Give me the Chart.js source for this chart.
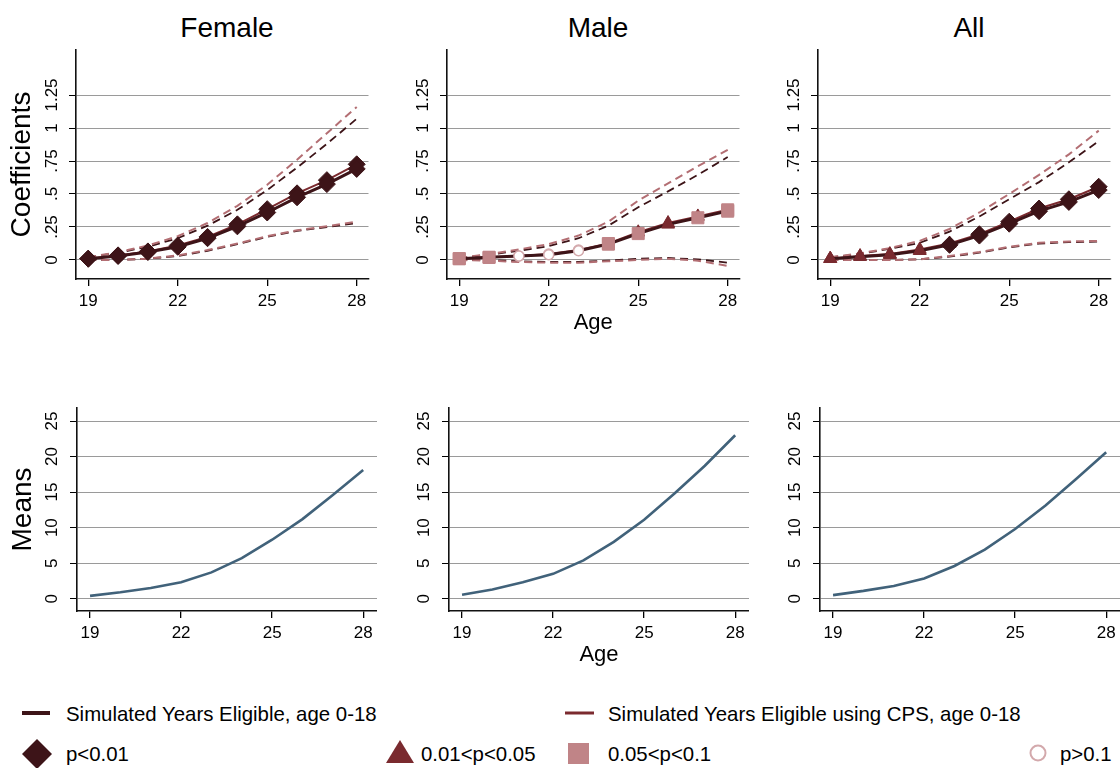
<!DOCTYPE html>
<html><head><meta charset="utf-8">
<script src="https://cdn.jsdelivr.net/npm/chart.js@4.4.1/dist/chart.umd.min.js"></script>
<style>
html,body{margin:0;padding:0;background:#fff;}
#wrap{position:relative;width:1120px;height:768px;overflow:hidden;font-family:"Liberation Sans",Arial,sans-serif;color:#000;background:#fff;}
canvas{position:absolute;}
.ttl{position:absolute;font-size:28px;line-height:1;white-space:nowrap;transform:translate(-50%,-50%);}
.lg{position:absolute;font-size:20.4px;line-height:1;white-space:nowrap;transform:translateY(-50%);}
#keys{position:absolute;left:0;top:0;}
</style></head>
<body><div id="wrap">
<div class="ttl" style="left:227px;top:27.5px">Female</div>
<div class="ttl" style="left:598px;top:27.5px">Male</div>
<div class="ttl" style="left:969px;top:27.5px">All</div>
<svg id="keys" width="1120" height="768">
  <line x1="22" y1="713" x2="50" y2="713" stroke="#3d1418" stroke-width="4"/>
  <line x1="565" y1="713" x2="594" y2="713" stroke="#7b2a2f" stroke-width="3"/>
  <polygon points="37,739 52,754 37,769 22,754" fill="#3d1418"/>
  <polygon points="400,740 414,763 386,763" fill="#7a2a2f"/>
  <rect x="568" y="743" width="21" height="21" fill="#c08487"/>
  <circle cx="1038" cy="753" r="7.5" fill="#fff" stroke="#d3a9ac" stroke-width="2"/>
</svg>
<div class="lg" style="left:66px;top:713.5px">Simulated Years Eligible, age 0-18</div>
<div class="lg" style="left:608px;top:713.5px">Simulated Years Eligible using CPS, age 0-18</div>
<div class="lg" style="left:66px;top:753.5px">p&lt;0.01</div>
<div class="lg" style="left:421px;top:753.5px">0.01&lt;p&lt;0.05</div>
<div class="lg" style="left:608px;top:753.5px">0.05&lt;p&lt;0.1</div>
<div class="lg" style="left:1060px;top:753.5px">p&gt;0.1</div>
</div>
<script>
// ---------------- DATA ----------------
const ages = [19, 20, 21, 22, 23, 24, 25, 26, 27, 28];
const xTicks = [19, 22, 25, 28];
const coefTicks = [0, 0.25, 0.5, 0.75, 1, 1.25];
const coefTickLabels = ['0', '.25', '.5', '.75', '1', '1.25'];
const meanTicks = [0, 5, 10, 15, 20, 25];
const meanTickLabels = ['0', '5', '10', '15', '20', '25'];

// Female coefficients
const femaleSim   = [0.01, 0.03, 0.06, 0.10, 0.165, 0.255, 0.36, 0.475, 0.575, 0.69];
const femaleCps   = [0.01, 0.035, 0.065, 0.11, 0.175, 0.27, 0.385, 0.505, 0.605, 0.725];
const femaleSimHi = [0.02, 0.055, 0.10, 0.165, 0.26, 0.38, 0.53, 0.70, 0.88, 1.07];
const femaleSimLo = [0.0, 0.0, 0.01, 0.03, 0.07, 0.12, 0.175, 0.22, 0.25, 0.28];
const femaleCpsHi = [0.02, 0.06, 0.11, 0.18, 0.28, 0.41, 0.57, 0.76, 0.96, 1.16];
const femaleCpsLo = [0.0, 0.0, 0.01, 0.035, 0.075, 0.125, 0.18, 0.225, 0.255, 0.29];
const femaleSimSig = ['d','d','d','d','d','d','d','d','d','d'];
const femaleCpsSig = ['d','d','d','d','d','d','d','d','d','d'];

// Male coefficients
const maleSim   = [0.01, 0.02, 0.03, 0.04, 0.07, 0.12, 0.2, 0.27, 0.32, 0.37];
const maleCps   = [0.01, 0.02, 0.03, 0.045, 0.075, 0.125, 0.21, 0.28, 0.33, 0.38];
const maleSimHi = [0.015, 0.04, 0.07, 0.105, 0.165, 0.26, 0.40, 0.52, 0.645, 0.78];
const maleSimLo = [0.0, 0.0, -0.01, -0.015, -0.015, -0.005, 0.01, 0.015, 0.005, -0.02];
const maleCpsHi = [0.015, 0.045, 0.08, 0.12, 0.185, 0.29, 0.45, 0.58, 0.71, 0.835];
const maleCpsLo = [0.0, -0.005, -0.015, -0.02, -0.02, -0.01, 0.0, 0.01, -0.005, -0.045];
const maleSimSig = ['s','s','c','c','c','s','s','t','s','s'];
const maleCpsSig = ['s','s','c','c','c','s','t','t','t','s'];

// All coefficients
const allSim   = [0.01, 0.025, 0.04, 0.07, 0.115, 0.185, 0.275, 0.37, 0.44, 0.53];
const allCps   = [0.01, 0.03, 0.045, 0.08, 0.125, 0.195, 0.29, 0.39, 0.46, 0.555];
const allSimHi = [0.02, 0.045, 0.085, 0.13, 0.215, 0.33, 0.46, 0.59, 0.74, 0.90];
const allSimLo = [0.0, 0.0, 0.0, 0.005, 0.025, 0.055, 0.095, 0.125, 0.135, 0.14];
const allCpsHi = [0.02, 0.05, 0.09, 0.145, 0.235, 0.36, 0.5, 0.645, 0.8, 0.98];
const allCpsLo = [0.0, 0.0, 0.0, 0.005, 0.03, 0.06, 0.1, 0.13, 0.14, 0.145];
const allSimSig = ['t','t','t','t','d','d','d','d','d','d'];
const allCpsSig = ['t','t','t','t','t','d','d','d','d','d'];

// Means
const femaleMeans = [0.4, 0.9, 1.5, 2.3, 3.7, 5.7, 8.3, 11.2, 14.6, 18.1];
const maleMeans   = [0.55, 1.3, 2.3, 3.5, 5.4, 8.0, 11.1, 14.8, 18.7, 23.0];
const allMeans    = [0.5, 1.1, 1.8, 2.85, 4.6, 6.9, 9.8, 13.1, 16.8, 20.6];

// ---------------- STYLE ----------------
const FONT = '"Liberation Sans", Arial, sans-serif';
Chart.defaults.font.family = FONT;
Chart.defaults.color = '#000';
const C_DARK = '#3d1418', C_RED = '#7b2a2f', C_CI = '#b36e73', C_MEAN = '#41627a';
const sigStyle = {
  d: {shape: 'rectRot', r: 8.5, fill: '#3d1418', line: '#3d1418', w: 1},
  t: {shape: 'triangle', r: 7.5, fill: '#7a2a2f', line: '#7a2a2f', w: 1},
  s: {shape: 'rect', r: 8.5, fill: '#c08487', line: '#c08487', w: 1},
  c: {shape: 'circle', r: 5, fill: '#ffffff', line: '#d3a9ac', w: 1.5}
};
const TICK_FONT = 17, TL = 7;
function textW(t, size) {
  const c = document.createElement('canvas').getContext('2d');
  c.font = size + 'px ' + FONT;
  return c.measureText(t).width;
}
const pts = arr => ages.map((a, i) => ({x: a, y: arr[i]}));

function mainSet(vals, sig, color, width, order) {
  return {
    data: pts(vals), borderColor: color, borderWidth: width, tension: 0, order,
    pointStyle: sig.map(s => sigStyle[s].shape),
    pointRadius: sig.map(s => sigStyle[s].r),
    pointBackgroundColor: sig.map(s => sigStyle[s].fill),
    pointBorderColor: sig.map(s => sigStyle[s].line),
    pointBorderWidth: sig.map(s => sigStyle[s].w)
  };
}
function ciSet(vals, color, width, order) {
  return {data: pts(vals), borderColor: color, borderWidth: width, borderDash: [8, 5],
          pointRadius: 0, tension: 0, order};
}

const rows = {
  top: {plotTop: 50, plotBottom: 279, canvasTop: 40, canvasBottom: 340, plotW: 302,
        xMin: 18.59, xMax: 28.395, yMin: -0.144, yMax: 1.591,
        ticks: coefTicks, labels: coefTickLabels, labOff: 24, ageY: 323},
  bottom: {plotTop: 408, plotBottom: 611, canvasTop: 395, canvasBottom: 680, plotW: 300,
        xMin: 18.57, xMax: 28.455, yMin: -1.73, yMax: 26.83,
        ticks: meanTicks, labels: meanTickLabels, labOff: 25, ageY: 655}
};

function makePanel(row, axisX, datasets, yTitle, yTitleX, showAge) {
  const YW = 76;
  const left = axisX - YW;
  const width = YW + row.plotW;
  const height = row.canvasBottom - row.canvasTop;
  const cv = document.createElement('canvas');
  cv.width = width; cv.height = height;
  cv.style.left = left + 'px'; cv.style.top = row.canvasTop + 'px';
  cv.style.width = width + 'px'; cv.style.height = height + 'px';
  document.getElementById('wrap').appendChild(cv);
  const widest = Math.max(...row.labels.map(l => textW(l, TICK_FONT)));
  const yPad = row.labOff - TL - widest / 2;
  const xH = row.canvasBottom - row.plotBottom;
  const ageLH = 22 * 1.2;
  const yLH = 28 * 1.2;
  new Chart(cv, {
    type: 'line',
    data: {datasets},
    options: {
      responsive: false, animation: false, devicePixelRatio: 1,
      layout: {padding: {top: row.plotTop - row.canvasTop, right: 0, left: 0, bottom: 0}},
      plugins: {legend: {display: false}, tooltip: {enabled: false}},
      scales: {
        x: {
          type: 'linear', position: 'bottom', min: row.xMin, max: row.xMax,
          afterBuildTicks: s => { s.ticks = xTicks.map(v => ({value: v})); },
          afterFit: s => { s.height = xH; s.paddingLeft = 0; s.paddingRight = 0; },
          grid: {drawOnChartArea: false, drawTicks: true, tickLength: TL, tickColor: '#000', lineWidth: 1.3},
          border: {color: '#111', width: 1.6},
          ticks: {autoSkip: false, maxRotation: 0, minRotation: 0, padding: 5,
                  font: {size: TICK_FONT}, color: '#000'},
          title: {display: showAge, text: 'Age', font: {size: 22}, color: '#000',
                  padding: {top: 0, bottom: height - ageLH / 2 - (row.ageY - row.canvasTop)}}
        },
        y: {
          type: 'linear', position: 'left', min: row.yMin, max: row.yMax,
          afterBuildTicks: s => { s.ticks = row.ticks.map(v => ({value: v})); },
          afterFit: s => { s.width = YW; s.paddingTop = 0; s.paddingBottom = 0; },
          grid: {drawOnChartArea: true, drawTicks: true, tickLength: TL, color: '#9a9a9a',
                 tickColor: '#000', lineWidth: 1},
          border: {color: '#111', width: 1.6},
          ticks: {autoSkip: false, minRotation: 90, maxRotation: 90, crossAlign: 'center',
                  padding: yPad, font: {size: TICK_FONT}, color: '#000',
                  callback: v => { const i = row.ticks.indexOf(v); return i >= 0 ? row.labels[i] : ''; }},
          title: {display: !!yTitle, text: yTitle || '', font: {size: 28}, color: '#000',
                  padding: {top: yTitle ? (yTitleX - left) - yLH / 2 : 0, bottom: 0}}
        }
      }
    }
  });
}

function coefSets(sim, cps, simHi, simLo, cpsHi, cpsLo, simSig, cpsSig) {
  return [
    mainSet(sim, simSig, C_DARK, 3, 0),
    mainSet(cps, cpsSig, C_RED, 2, 1),
    ciSet(cpsHi, C_CI, 2, 2), ciSet(cpsLo, C_CI, 2, 2),
    ciSet(simHi, C_DARK, 1.8, 3), ciSet(simLo, C_DARK, 1.8, 3)
  ];
}
function meanSet(vals) {
  return [{data: pts(vals), borderColor: C_MEAN, borderWidth: 2.6, pointRadius: 0, tension: 0}];
}

makePanel(rows.top, 76, coefSets(femaleSim, femaleCps, femaleSimHi, femaleSimLo, femaleCpsHi, femaleCpsLo, femaleSimSig, femaleCpsSig), 'Coefficients', 22.5, false);
makePanel(rows.top, 447, coefSets(maleSim, maleCps, maleSimHi, maleSimLo, maleCpsHi, maleCpsLo, maleSimSig, maleCpsSig), null, 0, true);
makePanel(rows.top, 818, coefSets(allSim, allCps, allSimHi, allSimLo, allCpsHi, allCpsLo, allSimSig, allCpsSig), null, 0, false);
makePanel(rows.bottom, 77, meanSet(femaleMeans), 'Means', 23.3, false);
makePanel(rows.bottom, 449, meanSet(maleMeans), null, 0, true);
makePanel(rows.bottom, 820, meanSet(allMeans), null, 0, false);
</script>
</body></html>
